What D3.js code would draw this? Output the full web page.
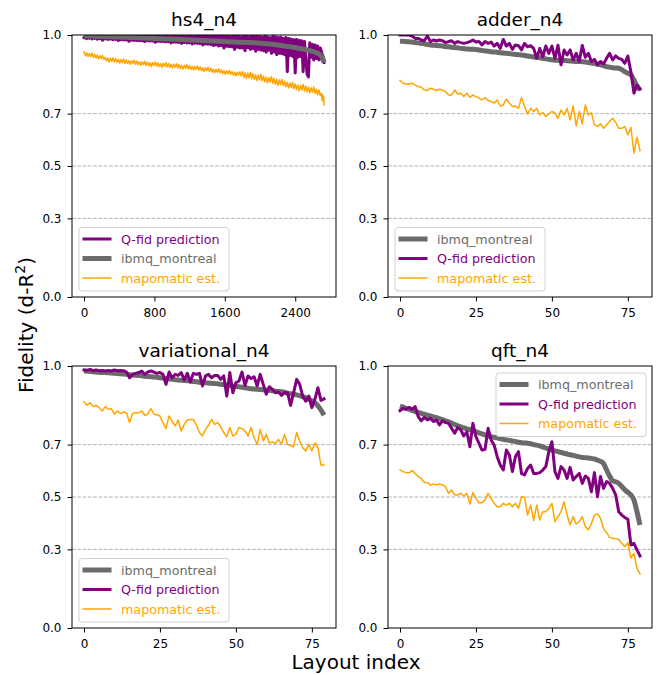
<!DOCTYPE html>
<html><head><meta charset="utf-8">
<script src="https://cdn.jsdelivr.net/npm/d3@7"></script>
<style>
html,body{margin:0;padding:0;background:#fff;}
svg{display:block;font-family:"DejaVu Sans",sans-serif;}
</style></head>
<body><svg id="chart" width="657" height="675"></svg>
<script>
// ---------------- DATA ----------------
const titles = ["hs4_n4", "adder_n4", "variational_n4", "qft_n4"];
const yTicks = [0.0, 0.3, 0.5, 0.7, 1.0];
const yGrid = [0.3, 0.5, 0.7];
const hs4XTicks = [0, 800, 1600, 2400];
const idxXTicks = [0, 25, 50, 75];
const seriesNames = {ibmq: "ibmq_montreal", qfid: "Q-fid prediction", mapo: "mapomatic est."};

// hs4_n4 (2728 layouts; values read at sampled layout indices)
const hs4SampleX = [0,15,30,45,60,75,90,105,120,135,150,165,180,195,210,225,240,255,270,285,300,315,330,345,360,375,390,405,420,435,450,465,480,495,510,525,540,555,570,585,600,615,630,645,660,675,690,705,720,735,750,765,780,795,810,825,840,855,870,885,900,915,930,945,960,975,990,1005,1020,1035,1050,1065,1080,1095,1110,1125,1140,1155,1170,1185,1200,1215,1230,1245,1260,1275,1290,1305,1320,1335,1350,1365,1380,1395,1410,1425,1440,1455,1470,1485,1500,1515,1530,1545,1560,1575,1590,1605,1620,1635,1650,1665,1680,1695,1710,1725,1740,1755,1770,1785,1800,1815,1830,1845,1860,1875,1890,1905,1920,1935,1950,1965,1980,1995,2010,2025,2040,2055,2070,2085,2100,2115,2130,2145,2160,2175,2190,2205,2220,2235,2250,2265,2280,2295,2310,2325,2340,2355,2370,2385,2400,2415,2430,2445,2460,2475,2490,2505,2520,2535,2550,2565,2580,2595,2610,2625,2640,2655,2670,2685,2700,2705,2712,2718,2722,2727];
const hs4Qfid = [
 .990,.996,.986,.997, .988,.996,.985,.997, .987,.995,.984,.997, .986,.996,.980,.997, .985,.995,.983,.997,
 .984,.996,.982,.995, .983,.997,.979,.996, .982,.995,.981,.997, .981,.996,.976,.995, .980,.997,.979,.996,
 .979,.995,.978,.997, .978,.996,.975,.995, .978,.997,.977,.996, .977,.995,.972,.997, .976,.996,.975,.995,
 .975,.997,.974,.996, .974,.995,.970,.997, .973,.996,.972,.995, .972,.997,.968,.996, .971,.995,.970,.997,
 .970,.996,.966,.995, .969,.997,.968,.996, .967,.995,.962,.997, .966,.996,.965,.995, .964,.997,.960,.996,
 .962,.995,.958,.997, .960,.996,.950,.995, .957,.997,.955,.994, .955,.995,.945,.996, .953,.997,.950,.993,
 .950,.995,.940,.996, .952,.993,.945,.997, .948,.996,.938,.994, .945,.995,.942,.992, .940,.996,.935,.993,
 .942,.990,.930,.995, .935,.993,.925,.990, .930,.992,.928,.988, .925,.990,.860,.987, .922,.985,.918,.982,
 .855,.983,.915,.980, .918,.978,.860,.975, .912,.850,.840,.970, .915,.965,.905,.962, .910,.958,.905,.950,
 .935,.905,.925,.900,.910,.895];
const hs4Mapo = [
 .935,.921,.932,.918, .929,.918,.931,.915, .926,.912,.923,.909, .921,.910,.923,.907, .915,.901,.912,.898,
 .911,.900,.913,.897, .910,.896,.907,.893, .906,.895,.908,.892, .905,.891,.902,.888, .902,.891,.904,.888,
 .901,.887,.898,.884, .898,.887,.900,.884, .897,.883,.894,.880, .895,.884,.897,.881, .894,.880,.891,.877,
 .892,.881,.894,.878, .891,.877,.888,.874, .888,.877,.890,.874, .887,.873,.884,.870, .884,.873,.886,.870,
 .883,.869,.880,.866, .880,.869,.882,.866, .878,.864,.875,.861, .875,.864,.877,.861, .873,.859,.870,.856,
 .869,.858,.871,.855, .867,.853,.864,.850, .863,.852,.865,.849, .861,.847,.858,.844, .858,.847,.860,.844,
 .860,.838,.856,.834, .855,.837,.858,.833, .852,.830,.848,.826, .847,.829,.850,.825, .843,.821,.839,.817,
 .838,.820,.841,.816, .834,.812,.830,.808, .828,.810,.831,.806, .824,.802,.820,.798, .817,.799,.820,.795,
 .813,.791,.809,.787, .808,.790,.811,.786, .805,.783,.801,.779, .799,.781,.802,.777, .794,.772,.790,.768,
 .778,.752,.770,.745,.765,.733];
const hs4IbmqX = [0,400,800,1200,1600,1900,2200,2400,2500,2600,2680,2710,2727];
const hs4Ibmq = [0.997,0.992,0.987,0.981,0.975,0.971,0.962,0.952,0.946,0.937,0.925,0.913,0.895];

// adder_n4 (80 layouts)
const adderIbmq = [0.977,0.976,0.975,0.974,0.973,0.971,0.970,0.968,0.966,0.964,0.962,0.961,0.960,0.959,0.958,0.956,0.955,0.953,0.952,0.951,0.949,0.948,0.947,0.946,0.946,0.945,0.943,0.941,0.939,0.938,0.936,0.935,0.934,0.932,0.931,0.930,0.929,0.927,0.926,0.925,0.924,0.922,0.920,0.918,0.916,0.915,0.913,0.911,0.909,0.907,0.905,0.904,0.904,0.903,0.903,0.902,0.901,0.900,0.899,0.899,0.898,0.897,0.895,0.893,0.891,0.889,0.886,0.883,0.879,0.877,0.875,0.874,0.873,0.868,0.860,0.854,0.848,0.828,0.806,0.790];
const adderQfid = [1.0,1.0,1.0,1.0,0.996,0.987,0.987,0.981,0.978,0.996,0.975,0.981,0.977,0.981,0.978,0.971,0.975,0.978,0.968,0.975,0.971,0.968,0.971,0.975,0.981,0.973,0.975,0.962,0.975,0.968,0.973,0.958,0.968,0.949,0.983,0.958,0.968,0.945,0.962,0.959,0.943,0.968,0.955,0.959,0.949,0.911,0.949,0.917,0.958,0.930,0.958,0.911,0.961,0.886,0.943,0.924,0.943,0.905,0.930,0.899,0.960,0.915,0.930,0.899,0.907,0.886,0.899,0.889,0.911,0.930,0.905,0.920,0.911,0.907,0.892,0.920,0.860,0.778,0.809,0.793];
const adderMapo = [0.826,0.816,0.813,0.813,0.816,0.809,0.803,0.801,0.790,0.788,0.797,0.793,0.788,0.793,0.790,0.784,0.771,0.771,0.790,0.775,0.778,0.765,0.778,0.762,0.771,0.765,0.759,0.752,0.761,0.750,0.746,0.740,0.752,0.729,0.733,0.755,0.740,0.727,0.729,0.720,0.761,0.727,0.699,0.720,0.708,0.720,0.695,0.704,0.689,0.699,0.708,0.703,0.682,0.714,0.695,0.720,0.676,0.729,0.653,0.708,0.661,0.733,0.695,0.703,0.657,0.651,0.661,0.644,0.657,0.670,0.682,0.666,0.644,0.644,0.651,0.619,0.648,0.549,0.610,0.559];

// variational_n4 (80 layouts)
const variIbmq = [0.981,0.980,0.979,0.978,0.977,0.976,0.975,0.975,0.974,0.973,0.972,0.971,0.970,0.969,0.968,0.967,0.966,0.965,0.964,0.963,0.961,0.960,0.959,0.958,0.957,0.955,0.954,0.953,0.951,0.949,0.948,0.947,0.946,0.945,0.944,0.943,0.941,0.940,0.938,0.937,0.936,0.935,0.934,0.933,0.932,0.930,0.929,0.927,0.925,0.923,0.922,0.921,0.919,0.917,0.915,0.913,0.912,0.911,0.910,0.909,0.908,0.907,0.905,0.904,0.903,0.902,0.900,0.896,0.894,0.892,0.890,0.887,0.883,0.879,0.873,0.867,0.860,0.848,0.832,0.812];
const variQfid = [0.985,0.983,0.987,0.982,0.985,0.982,0.983,0.981,0.983,0.981,0.985,0.982,0.983,0.982,0.977,0.955,0.968,0.972,0.975,0.981,0.968,0.977,0.981,0.977,0.972,0.975,0.968,0.930,0.977,0.955,0.968,0.964,0.975,0.947,0.972,0.939,0.972,0.968,0.972,0.924,0.962,0.968,0.955,0.964,0.964,0.949,0.962,0.885,0.975,0.898,0.936,0.943,0.977,0.926,0.962,0.952,0.959,0.924,0.968,0.930,0.892,0.921,0.911,0.898,0.901,0.888,0.898,0.898,0.850,0.898,0.949,0.930,0.885,0.866,0.885,0.841,0.873,0.917,0.869,0.875];
const variMapo = [0.863,0.850,0.860,0.845,0.850,0.841,0.828,0.845,0.835,0.837,0.816,0.828,0.819,0.824,0.822,0.784,0.819,0.822,0.822,0.828,0.812,0.816,0.837,0.816,0.814,0.809,0.784,0.761,0.809,0.790,0.771,0.794,0.752,0.777,0.794,0.796,0.796,0.774,0.746,0.733,0.758,0.774,0.796,0.777,0.784,0.768,0.746,0.730,0.765,0.733,0.739,0.765,0.761,0.752,0.733,0.765,0.726,0.700,0.758,0.714,0.739,0.707,0.710,0.705,0.720,0.701,0.739,0.701,0.695,0.692,0.746,0.714,0.688,0.676,0.701,0.676,0.706,0.688,0.622,0.622];

// qft_n4 (80 layouts)
const qftIbmq = [0.847,0.843,0.838,0.835,0.830,0.826,0.823,0.819,0.816,0.812,0.809,0.806,0.803,0.799,0.795,0.791,0.787,0.782,0.777,0.772,0.768,0.764,0.760,0.757,0.753,0.749,0.745,0.741,0.737,0.733,0.730,0.728,0.726,0.723,0.720,0.718,0.716,0.714,0.712,0.709,0.707,0.706,0.705,0.703,0.700,0.698,0.695,0.691,0.687,0.683,0.679,0.676,0.673,0.670,0.667,0.664,0.661,0.659,0.656,0.653,0.651,0.650,0.649,0.647,0.645,0.641,0.636,0.628,0.603,0.580,0.562,0.558,0.552,0.540,0.527,0.518,0.508,0.489,0.444,0.393];
const qftQfid = [0.830,0.838,0.835,0.842,0.835,0.845,0.807,0.791,0.804,0.794,0.800,0.788,0.794,0.775,0.791,0.784,0.781,0.762,0.743,0.766,0.756,0.733,0.749,0.692,0.781,0.730,0.705,0.679,0.682,0.762,0.718,0.698,0.654,0.622,0.603,0.679,0.660,0.597,0.654,0.673,0.590,0.584,0.609,0.622,0.590,0.590,0.593,0.603,0.616,0.673,0.711,0.597,0.571,0.616,0.603,0.571,0.613,0.565,0.578,0.590,0.552,0.580,0.571,0.520,0.593,0.501,0.578,0.533,0.559,0.552,0.533,0.508,0.444,0.431,0.422,0.415,0.317,0.323,0.298,0.275];
const qftMapo = [0.603,0.597,0.593,0.593,0.601,0.590,0.578,0.571,0.555,0.555,0.546,0.550,0.546,0.550,0.546,0.539,0.514,0.527,0.508,0.508,0.514,0.504,0.514,0.473,0.517,0.495,0.478,0.478,0.489,0.514,0.495,0.476,0.463,0.463,0.476,0.469,0.476,0.463,0.476,0.457,0.501,0.499,0.431,0.469,0.410,0.469,0.412,0.444,0.444,0.457,0.476,0.406,0.425,0.444,0.482,0.431,0.393,0.425,0.397,0.406,0.425,0.387,0.374,0.399,0.431,0.435,0.419,0.380,0.364,0.346,0.342,0.342,0.338,0.323,0.310,0.326,0.268,0.285,0.228,0.206];

// ---------------- STYLE / LAYOUT ----------------
const colors = {ibmq: "#6b6b6b", qfid: "#800080", mapo: "#ffa500"};
const widths = {ibmq: 5, qfid: 3, mapo: 1.5};
const PW = 264, PH = 262;

const toPts = (xs, ys) => ys.map((v, i) => [xs[i], v]);
const idxPts = ys => ys.map((v, i) => [i, v]);

const panels = [
  {title: titles[0], left: 72, top: 35, maxX: 2727, ticks: hs4XTicks, legend: "ll",
   order: ["qfid", "ibmq", "mapo"],
   data: {qfid: toPts(hs4SampleX, hs4Qfid), ibmq: toPts(hs4IbmqX, hs4Ibmq), mapo: toPts(hs4SampleX, hs4Mapo)}},
  {title: titles[1], left: 388, top: 35, maxX: 79, ticks: idxXTicks, legend: "ll",
   order: ["ibmq", "qfid", "mapo"],
   data: {ibmq: idxPts(adderIbmq), qfid: idxPts(adderQfid), mapo: idxPts(adderMapo)}},
  {title: titles[2], left: 72, top: 366, maxX: 79, ticks: idxXTicks, legend: "ll",
   order: ["ibmq", "qfid", "mapo"],
   data: {ibmq: idxPts(variIbmq), qfid: idxPts(variQfid), mapo: idxPts(variMapo)}},
  {title: titles[3], left: 388, top: 366, maxX: 79, ticks: idxXTicks, legend: "ur",
   order: ["ibmq", "qfid", "mapo"],
   data: {ibmq: idxPts(qftIbmq), qfid: idxPts(qftQfid), mapo: idxPts(qftMapo)}}
];

const svg = d3.select("#chart");
const defs = svg.append("defs");

panels.forEach((p, pi) => {
  const pad = p.maxX * 0.05;
  const x = d3.scaleLinear().domain([-pad, p.maxX + pad]).range([0, PW]);
  const y = d3.scaleLinear().domain([0, 1]).range([PH, 0]);
  const g = svg.append("g").attr("transform", `translate(${p.left},${p.top})`);

  defs.append("clipPath").attr("id", "clip" + pi)
    .append("rect").attr("width", PW).attr("height", PH);

  // grid
  g.selectAll(".grid").data(yGrid).enter().append("line")
    .attr("x1", 0).attr("x2", PW)
    .attr("y1", d => y(d)).attr("y2", d => y(d))
    .attr("stroke", "#a0a0a0").attr("stroke-width", 0.8)
    .attr("stroke-dasharray", "3.7,1.6");

  // lines
  const plot = g.append("g").attr("clip-path", `url(#clip${pi})`);
  p.order.forEach(k => {
    const line = d3.line().x(d => x(d[0])).y(d => y(d[1]));
    if (k === "ibmq") line.curve(d3.curveMonotoneX);
    plot.append("path").datum(p.data[k])
      .attr("d", line)
      .attr("fill", "none")
      .attr("stroke", colors[k])
      .attr("stroke-width", widths[k])
      .attr("stroke-linejoin", "round")
      .attr("stroke-linecap", k === "ibmq" ? "butt" : "square");
  });

  // axes
  const xAxis = d3.axisBottom(x).tickValues(p.ticks).tickSize(4.5).tickPadding(7).tickFormat(d3.format("d"));
  const yAxis = d3.axisLeft(y).tickValues(yTicks).tickSize(4.5).tickPadding(6).tickFormat(d3.format(".1f"));
  const gx = g.append("g").attr("transform", `translate(0,${PH})`).call(xAxis);
  const gy = g.append("g").call(yAxis);
  [gx, gy].forEach(a => {
    a.select(".domain").remove();
    a.selectAll("line").attr("stroke", "#000").attr("stroke-width", 1);
    a.selectAll("text").attr("font-size", 12).attr("fill", "#000")
      .attr("font-family", "DejaVu Sans");
  });

  // frame
  g.append("rect").attr("width", PW).attr("height", PH)
    .attr("fill", "none").attr("stroke", "#000").attr("stroke-width", 1);

  // title
  g.append("text").attr("x", PW / 2).attr("y", -9)
    .attr("text-anchor", "middle").attr("font-size", 18.5).attr("fill", "#000")
    .text(p.title);

  // legend
  const LW = 150, LH = 63.5;
  const lx = p.legend === "ll" ? 7 : PW - 6 - LW;
  const ly = p.legend === "ll" ? PH - 6 - LH : 7;
  const lg = g.append("g").attr("transform", `translate(${lx},${ly})`);
  lg.append("rect").attr("width", LW).attr("height", LH).attr("rx", 3)
    .attr("fill", "#fff").attr("fill-opacity", 0.8)
    .attr("stroke", "#d0d0d0").attr("stroke-width", 1);
  p.order.forEach((k, j) => {
    const cy = 11.5 + j * 19.5;
    lg.append("line").attr("x1", 3.5).attr("x2", 32.5).attr("y1", cy).attr("y2", cy)
      .attr("stroke", colors[k]).attr("stroke-width", widths[k]);
    lg.append("text").attr("x", 42).attr("y", cy).attr("dy", "0.36em")
      .attr("font-size", 12.7).attr("fill", colors[k]).text(seriesNames[k]);
  });
});

// figure labels
svg.append("text").attr("x", 356).attr("y", 669).attr("text-anchor", "middle")
  .attr("font-size", 20).attr("fill", "#000").text("Layout index");
const yl = svg.append("text").attr("transform", "translate(33,325) rotate(-90)")
  .attr("text-anchor", "middle").attr("font-size", 20).attr("fill", "#000");
yl.append("tspan").text("Fidelity (d-R");
yl.append("tspan").attr("font-size", 14).attr("dy", -8).text("2");
yl.append("tspan").attr("dy", 8).text(")");
</script></body></html>
